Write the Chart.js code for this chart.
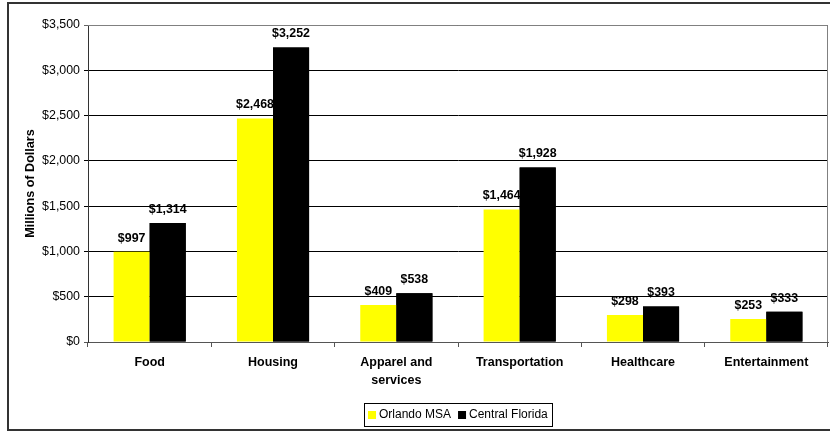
<!DOCTYPE html>
<html>
<head>
<meta charset="utf-8">
<script src="https://cdn.jsdelivr.net/npm/chart.js@4"></script>
<style>
  html, body { margin: 0; padding: 0; background: #fff; }
  canvas { display: block; }
</style>
</head>
<body>
<canvas id="c" width="830" height="431"></canvas>
<script>
// Consumer spending by category, millions of dollars
const categories = ['Food', 'Housing', ['Apparel and', 'services'], 'Transportation', 'Healthcare', 'Entertainment'];
const orlandoMSA = [997, 2468, 409, 1464, 298, 253];
const centralFlorida = [1314, 3252, 538, 1928, 393, 333];
const seriesNames = ['Orlando MSA', 'Central Florida'];
const seriesColors = ['#FFFF00', '#000000'];
const yTickValues = [0, 500, 1000, 1500, 2000, 2500, 3000, 3500];

const FONT = '"Liberation Sans", Arial, sans-serif';
const money = v => '$' + Number(v).toLocaleString('en-US');

// White page with the outer frame on the left, top and bottom edges
const frame = {
  id: 'frame',
  beforeDraw(chart) {
    const ctx = chart.ctx;
    ctx.save();
    ctx.fillStyle = '#fff';
    ctx.fillRect(0, 0, chart.width, chart.height);
    ctx.fillStyle = '#333';
    ctx.fillRect(7, 2, chart.width, 2);
    ctx.fillRect(7, 2, 2, chart.height - 2);
    ctx.fillRect(7, chart.height - 2, chart.width, 2);
    ctx.restore();
  }
};

// Grey border on the top and right of the plot area
const plotBorder = {
  id: 'plotBorder',
  beforeDatasetsDraw(chart) {
    const { ctx, chartArea: a } = chart;
    ctx.save();
    ctx.strokeStyle = '#808080';
    ctx.lineWidth = 1;
    ctx.beginPath();
    ctx.moveTo(a.left, a.top + 0.5);
    ctx.lineTo(a.right - 0.5, a.top + 0.5);
    ctx.lineTo(a.right - 0.5, a.bottom);
    ctx.stroke();
    ctx.restore();
  }
};

// Value labels above each bar; the darker bars are painted over the lighter series' labels
const valueLabels = {
  id: 'valueLabels',
  afterDatasetsDraw(chart) {
    const ctx = chart.ctx;
    const drawLabels = i => {
      const meta = chart.getDatasetMeta(i);
      const vals = chart.data.datasets[i].data;
      ctx.save();
      ctx.font = 'bold 12.4px ' + FONT;
      ctx.fillStyle = '#000';
      ctx.textAlign = 'center';
      ctx.textBaseline = 'alphabetic';
      meta.data.forEach((el, j) => ctx.fillText(money(vals[j]), el.x, el.y - 10));
      ctx.restore();
    };
    drawLabels(0);
    chart.getDatasetMeta(1).data.forEach(el => el.draw(ctx));
    drawLabels(1);
  }
};

// Boxed legend centred under the plot area
const boxLegend = {
  id: 'boxLegend',
  afterDraw(chart) {
    const { ctx, chartArea: a } = chart;
    ctx.save();
    ctx.font = '12px ' + FONT;
    const sw = 8, gap = 3, itemGap = 7, pad = 4, h = 23, top = 403;
    const items = chart.data.datasets.map(d => ({
      text: d.label, color: d.backgroundColor, w: ctx.measureText(d.label).width
    }));
    const total = pad * 2 + items.reduce((s, it) => s + sw + gap + it.w, 0) + itemGap * (items.length - 1);
    const left = Math.round((a.left + a.right) / 2 - total / 2);
    ctx.strokeStyle = '#000';
    ctx.lineWidth = 1;
    ctx.strokeRect(left + 0.5, top + 0.5, Math.round(total), h);
    let x = left + pad;
    const my = top + h / 2 + 0.5;
    items.forEach(it => {
      ctx.fillStyle = it.color;
      ctx.fillRect(x, Math.round(my - 4), sw, sw);
      x += sw + gap;
      ctx.fillStyle = '#000';
      ctx.textBaseline = 'middle';
      ctx.textAlign = 'left';
      ctx.fillText(it.text, x, my);
      x += it.w + itemGap;
    });
    ctx.restore();
  }
};

new Chart(document.getElementById('c'), {
  type: 'bar',
  data: {
    labels: categories,
    datasets: [
      { label: seriesNames[0], data: orlandoMSA, backgroundColor: seriesColors[0], borderWidth: 0 },
      { label: seriesNames[1], data: centralFlorida, backgroundColor: seriesColors[1], borderWidth: 0 }
    ]
  },
  options: {
    responsive: false,
    animation: false,
    devicePixelRatio: 1,
    layout: { padding: { left: 0, top: 25, right: 2, bottom: 29 } },
    datasets: { bar: { categoryPercentage: 0.585, barPercentage: 1 } },
    plugins: { legend: { display: false }, tooltip: { enabled: false } },
    scales: {
      x: {
        grid: { display: true, drawOnChartArea: false, drawTicks: true, tickLength: 5, color: '#555', offset: true },
        border: { color: '#555' },
        ticks: {
          color: '#000',
          font: { family: FONT, size: 12.5, weight: 'bold', lineHeight: 1.4 },
          padding: 7, maxRotation: 0, autoSkip: false
        },
        afterFit(s) { s.height = 60; }
      },
      y: {
        min: 0,
        max: 3500,
        afterBuildTicks(s) { s.ticks = yTickValues.map(v => ({ value: v })); },
        grid: {
          color: c => (c.tick && c.tick.value === 3500) ? '#666' : (c.tick && c.tick.value === 0 ? '#555' : '#000'),
          tickLength: 4,
          drawTicks: true
        },
        border: { color: '#333' },
        ticks: { color: '#000', font: { family: FONT, size: 12.4 }, padding: 4, callback: v => money(v) },
        title: {
          display: true,
          text: 'Millions of Dollars',
          color: '#000',
          font: { family: FONT, size: 12.6, weight: 'bold' },
          padding: { top: 23, bottom: 0 }
        },
        afterFit(s) { s.width = 88; }
      }
    }
  },
  plugins: [frame, plotBorder, valueLabels, boxLegend]
});
</script>
</body>
</html>
